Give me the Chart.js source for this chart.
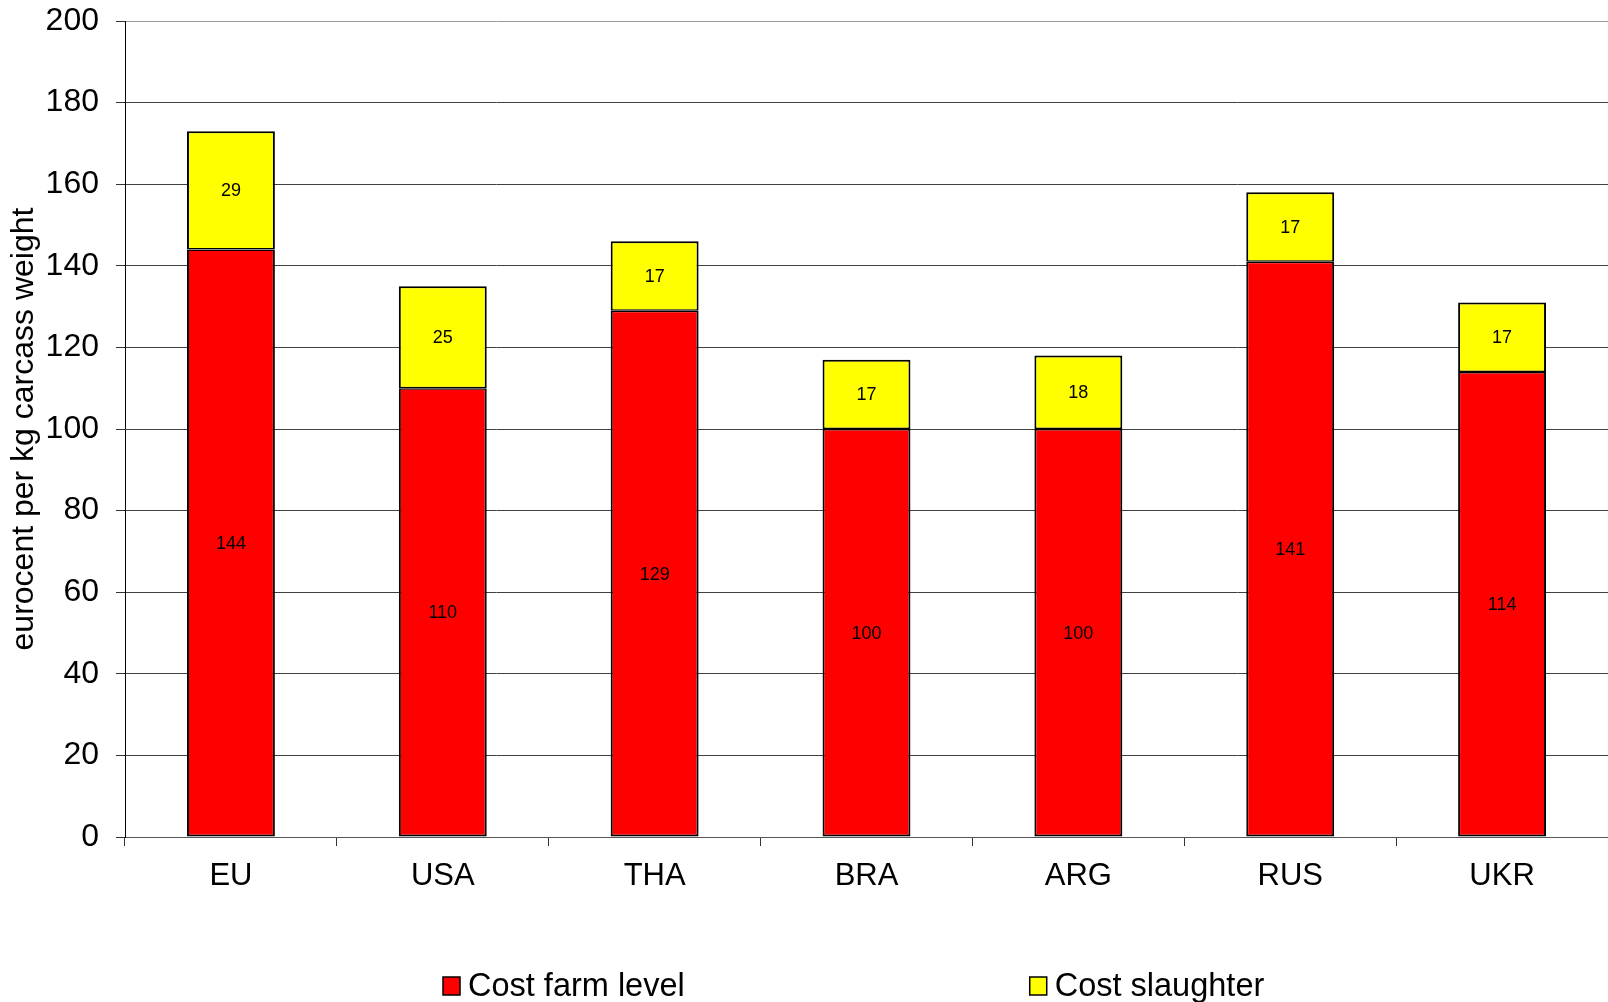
<!DOCTYPE html>
<html>
<head>
<meta charset="utf-8">
<script src="https://cdn.jsdelivr.net/npm/chart.js@4/dist/chart.umd.min.js"></script>
<style>
  html, body { margin: 0; padding: 0; background: #fff; }
  #wrap { width: 1608px; height: 1002px; position: relative; }
</style>
</head>
<body>
<div id="wrap"><canvas id="myChart"></canvas></div>
<script>
const countries = ['EU', 'USA', 'THA', 'BRA', 'ARG', 'RUS', 'UKR'];
const costFarm = [144, 110, 129, 100, 100, 141, 114];
const costSlaughter = [29, 25, 17, 17, 18, 17, 17];
const seriesNames = ['Cost farm level', 'Cost slaughter'];
const seriesColors = ['#ff0000', '#ffff00'];

const FONT = "'Liberation Sans', Arial, sans-serif";

/**
 * Write the value of each bar segment in its middle.
 */
const segmentLabels = {
    id: 'segmentLabels',
    afterDatasetsDraw(chart) {
        const ctx = chart.ctx;
        ctx.save();
        ctx.font = '18px ' + FONT;
        ctx.fillStyle = '#000';
        ctx.textAlign = 'center';
        ctx.textBaseline = 'middle';
        chart.data.datasets.forEach((ds, i) => {
            const meta = chart.getDatasetMeta(i);
            meta.data.forEach((bar, j) => {
                const p = bar.getProps(['x', 'y', 'base'], true);
                ctx.fillText(ds.data[j], p.x, (p.y + p.base) / 2 + 1);
            });
        });
        ctx.restore();
    }
};

/**
 * Legend in one row with a wide gap, like the original sheet.
 */
const wideLegend = {
    id: 'wideLegend',
    afterDraw(chart) {
        const ctx = chart.ctx;
        const gap = 345;
        const boxW = 17, boxH = 18;
        const yMid = 986;
        let x = 443;
        ctx.save();
        ctx.font = '32.5px ' + FONT;
        ctx.textBaseline = 'middle';
        ctx.textAlign = 'left';
        chart.data.datasets.forEach(ds => {
            ctx.fillStyle = ds.backgroundColor;
            ctx.fillRect(x, yMid - boxH / 2, boxW, boxH);
            ctx.lineWidth = 1.5;
            ctx.strokeStyle = '#000';
            ctx.strokeRect(x, yMid - boxH / 2, boxW, boxH);
            ctx.fillStyle = '#000';
            ctx.fillText(ds.label, x + boxW + 8, yMid + 1);
            x += boxW + 8 + ctx.measureText(ds.label).width + gap;
        });
        ctx.restore();
    }
};

function initChart() {
    const ctx = document.getElementById('myChart').getContext('2d');
    return new Chart(ctx, {
        type: 'bar',
        data: {
            labels: countries,
            datasets: [{
                label: seriesNames[0],
                data: costFarm,
                backgroundColor: seriesColors[0],
                borderColor: '#000',
                borderWidth: { top: 1.5, left: 2, right: 2, bottom: 2 },
                borderSkipped: false
            }, {
                label: seriesNames[1],
                data: costSlaughter,
                backgroundColor: seriesColors[1],
                borderColor: '#000',
                borderWidth: { top: 2, left: 2, right: 2, bottom: 1.5 },
                borderSkipped: false
            }]
        },
        options: {
            responsive: true,
            maintainAspectRatio: false,
            animation: false,
            layout: {
                padding: { top: 21, right: 0, bottom: 0, left: 0 }
            },
            datasets: {
                bar: {
                    categoryPercentage: 1.0,
                    barPercentage: 0.415
                }
            },
            plugins: {
                legend: { display: false },
                tooltip: { enabled: false }
            },
            scales: {
                x: {
                    stacked: true,
                    grid: {
                        drawOnChartArea: false,
                        tickLength: 9,
                        tickColor: '#333',
                        offset: true
                    },
                    border: { color: '#555', width: 1 },
                    ticks: {
                        color: '#000',
                        padding: 12,
                        font: { family: FONT, size: 31 }
                    },
                    afterFit(scale) { scale.height = 165; }
                },
                y: {
                    stacked: true,
                    min: 0,
                    max: 200,
                    grid: {
                        color: c => (c.tick && c.tick.value === 200) ? '#9a9a9a' : '#404040',
                        lineWidth: 1,
                        tickLength: 9,
                        tickColor: '#333'
                    },
                    border: { color: '#000', width: 1 },
                    ticks: {
                        stepSize: 20,
                        color: '#000',
                        padding: 17,
                        font: { family: FONT, size: 32 }
                    },
                    title: {
                        display: true,
                        text: 'eurocent per kg carcass weight',
                        color: '#000',
                        padding: { top: 5, bottom: 0 },
                        font: { family: FONT, size: 32 }
                    },
                    afterFit(scale) {
                        scale.width = 125;
                        scale.paddingTop = 0;
                        scale.paddingBottom = 0;
                    }
                }
            }
        },
        plugins: [segmentLabels, wideLegend]
    });
}

initChart();
</script>
</body>
</html>
